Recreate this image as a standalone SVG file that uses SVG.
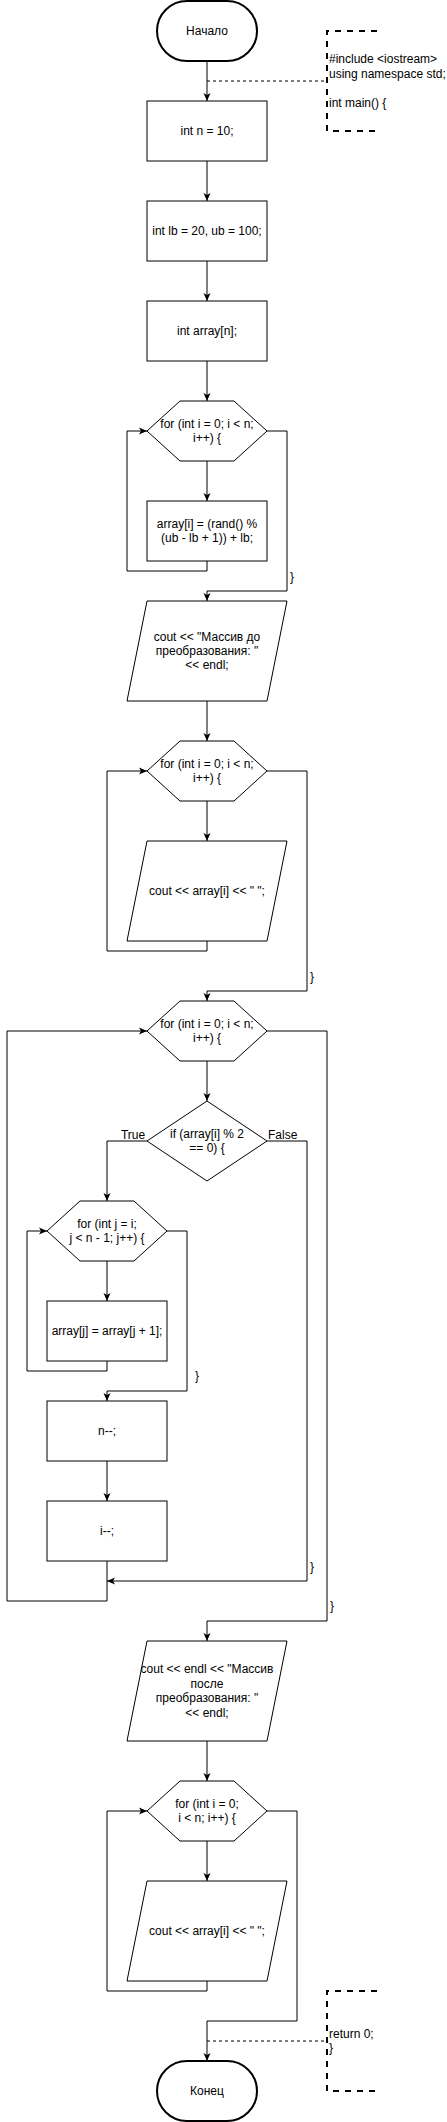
<svg xmlns="http://www.w3.org/2000/svg" width="447" height="2122" viewBox="0 0 447 2122">
<style>
text{font-family:"Liberation Sans",Arial,sans-serif;font-size:12px;fill:#000}
.c{text-anchor:middle}
.s{fill:#fff;stroke:#000;stroke-width:1}
.t{fill:#fff;stroke:#000;stroke-width:2}
.e{fill:none;stroke:#000;stroke-width:1}
.a{marker-end:url(#arr)}
.d{fill:none;stroke:#000;stroke-width:1;stroke-dasharray:3 3}
.br{fill:none;stroke:#000;stroke-width:2;stroke-dasharray:6 6}
</style>
<defs>
<marker id="arr" markerUnits="userSpaceOnUse" markerWidth="8" markerHeight="8" viewBox="0 0 8 8" refX="8" refY="4" orient="auto">
<path d="M0,0.5 L8,4 L0,7.5 L2,4 Z" fill="#000"/>
</marker>
</defs>
<rect width="447" height="2122" fill="#fff"/>
<g id="connectors">
<path class="e a" d="M207,62 V101"/>
<path class="e a" d="M207,161 V201"/>
<path class="e a" d="M207,261 V301"/>
<path class="e a" d="M207,361 V401"/>
<path class="e a" d="M207,461 V501"/>
<path class="e a" d="M207,561 V571 H127 V431 H147"/>
<path class="e a" d="M267,431 H287 V591 H207 V601"/>
<text x="290" y="581">}</text>
<path class="e a" d="M207,701 V741"/>
<path class="e a" d="M207,801 V841"/>
<path class="e a" d="M207,941 V951 H107 V771 H147"/>
<path class="e a" d="M267,771 H307 V991 H207 V1001"/>
<text x="310" y="981">}</text>
<path class="e a" d="M207,1061 V1101"/>
<path class="e a" d="M147,1141 H107 V1201"/>
<text class="c" x="133" y="1139">True</text>
<path class="e a" d="M267,1141 H307 V1581 H107"/>
<text x="268" y="1139">False</text>
<text x="310" y="1571">}</text>
<path class="e a" d="M107,1261 V1301"/>
<path class="e a" d="M107,1361 V1371 H27 V1231 H47"/>
<path class="e a" d="M167,1231 H187 V1391 H107 V1401"/>
<text x="195" y="1380">}</text>
<path class="e a" d="M107,1461 V1501"/>
<path class="e a" d="M107,1561 V1601 H7 V1031 H147"/>
<path class="e a" d="M267,1031 H327 V1621 H207 V1641"/>
<text x="330" y="1610">}</text>
<path class="e a" d="M207,1741 V1781"/>
<path class="e a" d="M207,1841 V1881"/>
<path class="e a" d="M207,1981 V1991 H107 V1811 H147"/>
<path class="e a" d="M267,1811 H297 V2021 H207 V2061"/>
<path class="d" d="M207,81 H327"/>
<path class="d" d="M207,2041 H327"/>
</g>
<g id="start">
<rect class="t" x="157" y="1" width="100" height="60" rx="30" ry="30"/>
<text class="c" x="207" y="35">Начало</text>
</g>
<g id="note1">
<path class="br" d="M377,31 H327 V131 H377"/>
<text x="329"><tspan x="329" y="63.4">#include &lt;iostream&gt;</tspan><tspan x="329" y="77.8">using namespace std;</tspan><tspan x="329" y="106.6">int main() {</tspan></text>
</g>
<g id="n1">
<rect class="s" x="147" y="101" width="120" height="60"/>
<text class="c" x="207" y="135">int n = 10;</text>
</g>
<g id="n2">
<rect class="s" x="147" y="201" width="120" height="60"/>
<text class="c" x="207" y="235">int lb = 20, ub = 100;</text>
</g>
<g id="n3">
<rect class="s" x="147" y="301" width="120" height="60"/>
<text class="c" x="207" y="335">int array[n];</text>
</g>
<g id="loop1">
<polygon class="s" points="147,431 180,401 234,401 267,431 234,461 180,461"/>
<text class="c"><tspan x="207" y="427.8">for (int i = 0; i &lt; n;</tspan><tspan x="207" y="442.2">i++) {</tspan></text>
</g>
<g id="fill">
<rect class="s" x="147" y="501" width="120" height="60"/>
<text class="c"><tspan x="207" y="527.8">array[i] = (rand() %</tspan><tspan x="207" y="542.2">(ub - lb + 1)) + lb;</tspan></text>
</g>
<g id="out1">
<polygon class="s" points="147,601 287,601 267,701 127,701"/>
<text class="c"><tspan x="207" y="640.6">cout &lt;&lt; "Массив до</tspan><tspan x="207" y="655">преобразования: "</tspan><tspan x="207" y="669.4">&lt;&lt; endl;</tspan></text>
</g>
<g id="loop2">
<polygon class="s" points="147,771 180,741 234,741 267,771 234,801 180,801"/>
<text class="c"><tspan x="207" y="767.8">for (int i = 0; i &lt; n;</tspan><tspan x="207" y="782.2">i++) {</tspan></text>
</g>
<g id="print1">
<polygon class="s" points="147,841 287,841 267,941 127,941"/>
<text class="c" x="207" y="895">cout &lt;&lt; array[i] &lt;&lt; " ";</text>
</g>
<g id="loop3">
<polygon class="s" points="147,1031 180,1001 234,1001 267,1031 234,1061 180,1061"/>
<text class="c"><tspan x="207" y="1027.8">for (int i = 0; i &lt; n;</tspan><tspan x="207" y="1042.2">i++) {</tspan></text>
</g>
<g id="cond">
<polygon class="s" points="207,1101 267,1141 207,1181 147,1141"/>
<text class="c"><tspan x="207" y="1137.8">if (array[i] % 2</tspan><tspan x="207" y="1152.2">== 0) {</tspan></text>
</g>
<g id="loopj">
<polygon class="s" points="47,1231 80,1201 134,1201 167,1231 134,1261 80,1261"/>
<text class="c"><tspan x="107" y="1227.8">for (int j = i;</tspan><tspan x="107" y="1242.2">j &lt; n - 1; j++) {</tspan></text>
</g>
<g id="shift">
<rect class="s" x="47" y="1301" width="120" height="60"/>
<text class="c" x="107" y="1335">array[j] = array[j + 1];</text>
</g>
<g id="decn">
<rect class="s" x="47" y="1401" width="120" height="60"/>
<text class="c" x="107" y="1435">n--;</text>
</g>
<g id="deci">
<rect class="s" x="47" y="1501" width="120" height="60"/>
<text class="c" x="107" y="1535">i--;</text>
</g>
<g id="out2">
<polygon class="s" points="147,1641 287,1641 267,1741 127,1741"/>
<text class="c"><tspan x="207" y="1673.4">cout &lt;&lt; endl &lt;&lt; "Массив</tspan><tspan x="207" y="1687.8">после</tspan><tspan x="207" y="1702.2">преобразования: "</tspan><tspan x="207" y="1716.6">&lt;&lt; endl;</tspan></text>
</g>
<g id="loop4">
<polygon class="s" points="147,1811 180,1781 234,1781 267,1811 234,1841 180,1841"/>
<text class="c"><tspan x="207" y="1807.8">for (int i = 0;</tspan><tspan x="207" y="1822.2">i &lt; n; i++) {</tspan></text>
</g>
<g id="print2">
<polygon class="s" points="147,1881 287,1881 267,1981 127,1981"/>
<text class="c" x="207" y="1935">cout &lt;&lt; array[i] &lt;&lt; " ";</text>
</g>
<g id="note2">
<path class="br" d="M377,1991 H327 V2091 H377"/>
<text><tspan x="329" y="2037.8">return 0;</tspan><tspan x="329" y="2052.2">}</tspan></text>
</g>
<g id="end">
<rect class="t" x="157" y="2061" width="100" height="60" rx="30" ry="30"/>
<text class="c" x="207" y="2095">Конец</text>
</g>
</svg>
